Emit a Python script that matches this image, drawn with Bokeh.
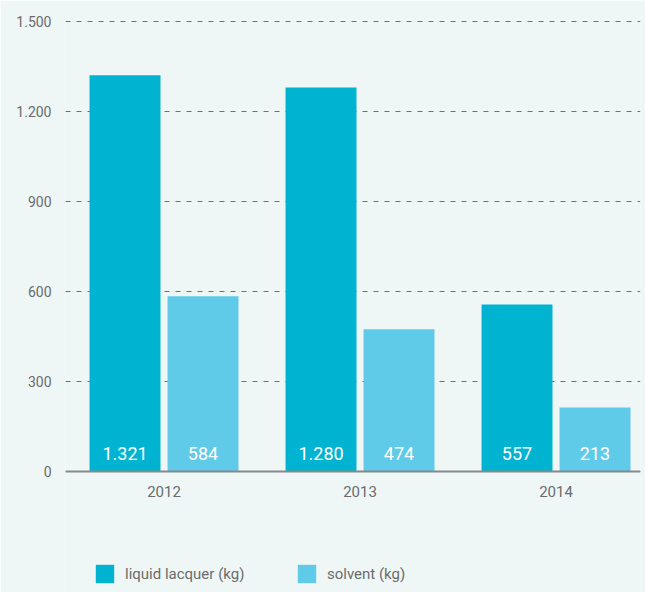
from bokeh.plotting import figure
from bokeh.models import ColumnDataSource, Range1d, FixedTicker, Legend, LegendItem
from bokeh.core.properties import value
from bokeh.embed import file_html
from bokeh.resources import INLINE

years = ["2012", "2013", "2014"]
lacquer = [1321, 1280, 557]
solvent = [584, 474, 213]
y_ticks = [0, 300, 600, 900, 1200, 1500]
y_tick_labels = ["0", "300", "600", "900", "1.200", "1.500"]

BG = "#eff7f6"
C1 = "#00b4d1"
C2 = "#60cbe8"
TXT = "#6b6b6b"
FONT = "Roboto"

def fmt(v):
    return f"{v:,}".replace(",", ".")

idx = list(range(len(years)))
off = 0.199
bw = 0.362

src1 = ColumnDataSource(dict(x=[i - off for i in idx], top=lacquer, lab=[fmt(v) for v in lacquer]))
src2 = ColumnDataSource(dict(x=[i + off for i in idx], top=solvent, lab=[fmt(v) for v in solvent]))

# the frame reaches down to the bottom edge so the legend sits inside it;
# the x axis is pinned to y = 0
p = figure(width=645, height=592, output_backend="svg", toolbar_location=None,
           x_range=Range1d(-0.5026, 2.431), y_range=Range1d(-403.3, 1503.3),
           min_border_left=65, min_border_right=5, min_border_top=20, min_border_bottom=0,
           background_fill_color=BG, border_fill_color=BG, outline_line_color=None)

r1 = p.vbar(x="x", top="top", width=bw, source=src1, fill_color=C1, line_color=None)
r2 = p.vbar(x="x", top="top", width=bw, source=src2, fill_color=C2, line_color=None)

for s in (src1, src2):
    p.text(x="x", y=0, text="lab", source=s, text_color="white", text_font=value(FONT),
           text_font_size="18px", text_font_style="normal", text_align="center",
           text_baseline="middle", y_offset=-18)

# dashed horizontal grid
p.xgrid.visible = False
p.ygrid.ticker = FixedTicker(ticks=y_ticks)
p.ygrid.grid_line_color = "#6f6f6f"
p.ygrid.grid_line_dash = "5 6"
p.ygrid.grid_line_width = 1.2

# y axis
p.yaxis.ticker = FixedTicker(ticks=y_ticks)
p.yaxis.major_label_overrides = {t: l for t, l in zip(y_ticks, y_tick_labels)}
p.yaxis.axis_line_color = None
p.yaxis.major_tick_line_color = None
p.yaxis.minor_tick_line_color = None
p.yaxis.major_label_standoff = 8
p.yaxis.major_label_text_font = FONT
p.yaxis.major_label_text_font_size = "14px"
p.yaxis.major_label_text_color = TXT

# x axis
p.xaxis.fixed_location = 0
p.xaxis.ticker = FixedTicker(ticks=idx)
p.xaxis.major_label_overrides = {i: y for i, y in zip(idx, years)}
p.xaxis.axis_line_color = "#888888"
p.xaxis.axis_line_width = 2
p.xaxis.major_tick_line_color = None
p.xaxis.minor_tick_line_color = None
p.xaxis.major_label_standoff = 8
p.xaxis.major_label_text_font = FONT
p.xaxis.major_label_text_font_size = "15px"
p.xaxis.major_label_text_color = TXT

legend = Legend(items=[LegendItem(label="liquid lacquer (kg)", renderers=[r1]),
                       LegendItem(label="solvent (kg)", renderers=[r2])],
                orientation="horizontal", location=(28, 7),
                glyph_width=23, glyph_height=23, label_standoff=9, label_width=170,
                label_height=23,
                spacing=0, padding=0, margin=0,
                label_text_font=FONT, label_text_font_size="15px", label_text_color=TXT,
                label_text_baseline="top",
                background_fill_alpha=0, border_line_color=None)
p.add_layout(legend, "center")

open("out.html", "w").write(file_html(p, INLINE))
